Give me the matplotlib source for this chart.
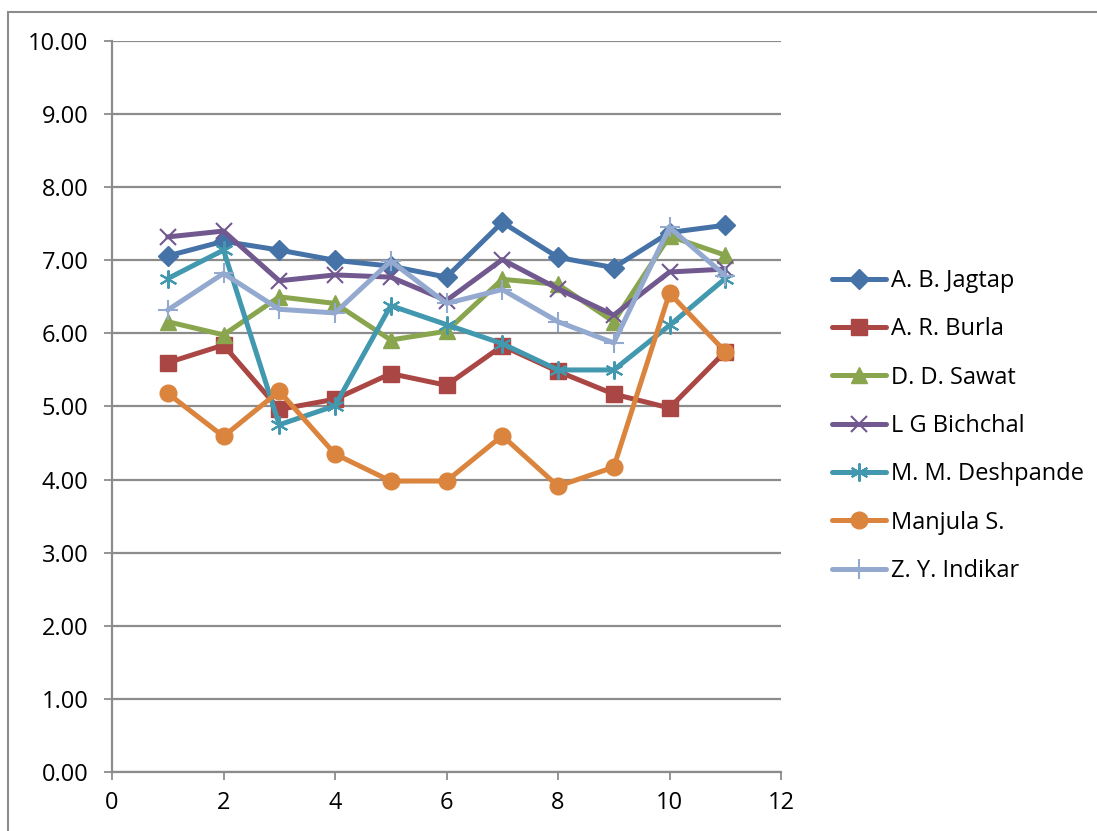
import matplotlib
matplotlib.use("Agg")
import matplotlib.pyplot as plt
from matplotlib.patches import Rectangle

x_values = [1, 2, 3, 4, 5, 6, 7, 8, 9, 10, 11]
series_names = ["A. B. Jagtap", "A. R. Burla", "D. D. Sawat", "L G Bichchal",
                "M. M. Deshpande", "Manjula S.", "Z. Y. Indikar"]
jagtap = [7.06, 7.26, 7.14, 7.00, 6.92, 6.77, 7.52, 7.04, 6.90, 7.38, 7.48]
burla = [5.60, 5.84, 4.96, 5.10, 5.45, 5.29, 5.83, 5.48, 5.17, 4.98, 5.75]
sawat = [6.16, 5.98, 6.50, 6.41, 5.91, 6.03, 6.74, 6.67, 6.16, 7.33, 7.07]
bichchal = [7.32, 7.40, 6.72, 6.80, 6.77, 6.45, 7.01, 6.61, 6.25, 6.84, 6.88]
deshpande = [6.75, 7.14, 4.75, 5.01, 6.38, 6.12, 5.86, 5.50, 5.50, 6.11, 6.75]
manjula = [5.18, 4.59, 5.21, 4.35, 3.98, 3.98, 4.60, 3.91, 4.17, 6.55, 5.75]
indikar = [6.32, 6.82, 6.33, 6.28, 6.99, 6.41, 6.60, 6.16, 5.87, 7.45, 6.79]
y_ticks = [0, 1, 2, 3, 4, 5, 6, 7, 8, 9, 10]
x_ticks = [0, 2, 4, 6, 8, 10, 12]

all_series = [jagtap, burla, sawat, bichchal, deshpande, manjula, indikar]
colors = ["#4572A7", "#AA4643", "#89A54E", "#71588F", "#4198AF", "#DB843D", "#93A9CF"]
markers = ["D", "s", "^", "x", (6, 2, 0), "o", "+"]
msizes = [10, 12, 12, 12, 13, 12, 14]
mews = [1, 1, 1, 1.5, 1.5, 1, 1.5]

plt.rcParams['font.family'] = ['Open Sans', 'DejaVu Sans']

fig = plt.figure(figsize=(10.97, 8.31), dpi=100)
ax = fig.add_axes([112/1097, 1-772/831, (781-112)/1097, (772-41)/831])

handles = []
for name, vals, c, m, ms, mew in zip(series_names, all_series, colors, markers, msizes, mews):
    h, = ax.plot(x_values, vals, color=c, lw=3.6, marker=m, markersize=ms,
                 markeredgewidth=mew, markerfacecolor=c, markeredgecolor=c,
                 label=name, solid_joinstyle='round', solid_capstyle='round')
    handles.append(h)

ax.set_xlim(0, 12)
ax.set_ylim(0, 10)
ax.set_yticks(y_ticks)
ax.set_yticklabels([f"{v:.2f}" for v in y_ticks])
ax.set_xticks(x_ticks)
ax.set_xticklabels([str(v) for v in x_ticks])
ax.grid(axis='y', color='#8C8C8C', lw=1.6)
ax.set_axisbelow(True)
for s in ['top', 'right']:
    ax.spines[s].set_visible(False)
for s in ['left', 'bottom']:
    ax.spines[s].set_color('#8C8C8C')
    ax.spines[s].set_linewidth(1.6)
ax.tick_params(axis='both', direction='out', length=6, width=1.3, color='#8C8C8C',
               labelsize=17, labelcolor='black')
ax.tick_params(axis='y', pad=11)
ax.tick_params(axis='x', pad=8)

fig.legend(handles=handles, loc='center left', bbox_to_anchor=(832/1097, 1-426/831),
           frameon=False, fontsize=17, handlelength=2.3, handletextpad=0.2,
           labelspacing=1.03, borderaxespad=0, borderpad=0)

fig.patches.append(Rectangle((8/1097, -0.1), 1.2, 1.1 - 12/831, transform=fig.transFigure,
                             fill=False, edgecolor='#8C8C8C', lw=1.5))

fig.savefig("out.png", dpi=100)
